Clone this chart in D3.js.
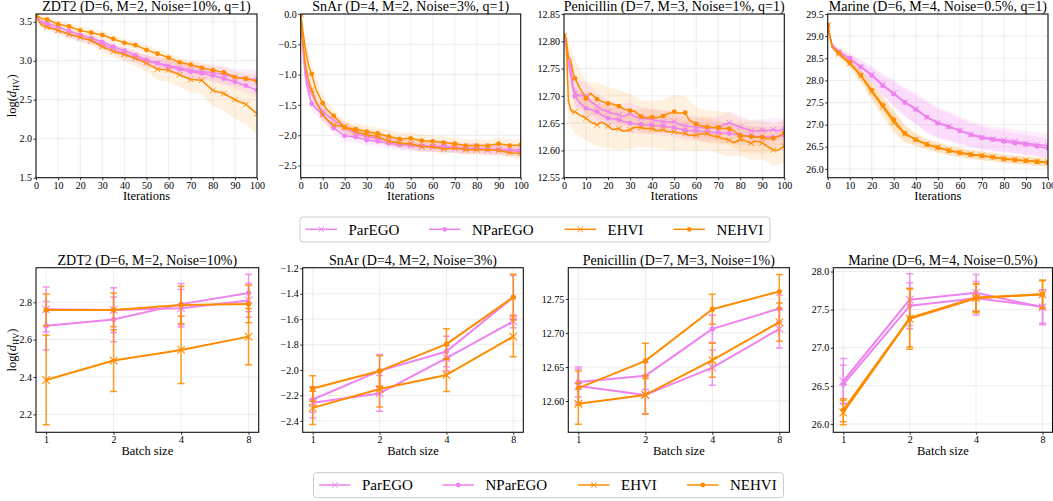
<!DOCTYPE html>
<html><head><meta charset="utf-8">
<script src="https://cdn.jsdelivr.net/npm/d3@7"></script>
<style>
body{margin:0;background:#fff}
svg{display:block}
</style>
</head><body>
<svg id="c" width="1053" height="501"></svg>
<script>
// ---------------- DATA ----------------
const methods = ["ParEGO","NParEGO","EHVI","NEHVI"];
const batchSizes = ["1","2","4","8"];
const iterTicks = [0,10,20,30,40,50,60,70,80,90,100];
const bandIters = [0,2,5,10,15,20,25,30,35,40,45,50,55,60,65,70,75,80,85,90,95,100];

// ZDT2 (q=1)
const zdt2Iters = [0,1,2,3,5,10,15,20,25,30,35,40,45,50,55,60,65,70,75,80,85,90,95,100];
const zdt2ParEGO  = [3.60,3.52,3.49,3.48,3.46,3.39,3.34,3.30,3.26,3.21,3.15,3.09,3.04,2.99,2.97,2.94,2.91,2.88,2.86,2.85,2.82,2.79,2.77,2.76];
const zdt2NParEGO = [3.60,3.54,3.51,3.50,3.48,3.44,3.38,3.33,3.29,3.24,3.18,3.13,3.07,3.01,2.97,2.92,2.89,2.86,2.84,2.81,2.77,2.73,2.68,2.62];
const zdt2EHVI    = [3.60,3.52,3.47,3.45,3.43,3.39,3.34,3.30,3.26,3.18,3.12,3.08,3.03,2.97,2.89,2.88,2.82,2.76,2.75,2.62,2.58,2.50,2.44,2.32];
const zdt2NEHVI   = [3.60,3.57,3.55,3.54,3.53,3.47,3.44,3.39,3.36,3.33,3.28,3.23,3.20,3.14,3.09,3.04,2.98,2.95,2.91,2.88,2.85,2.79,2.77,2.74];
const zdt2ParEGOBand  = [0,0.03,0.04,0.04,0.05,0.05,0.05,0.06,0.06,0.07,0.07,0.08,0.08,0.09,0.09,0.1,0.1,0.1,0.11,0.11,0.12,0.12];
const zdt2NParEGOBand = [0,0.02,0.03,0.03,0.04,0.04,0.04,0.05,0.05,0.05,0.06,0.06,0.06,0.07,0.07,0.07,0.08,0.08,0.08,0.08,0.09,0.09];
const zdt2EHVIBand    = [0,0.03,0.04,0.05,0.05,0.06,0.06,0.07,0.08,0.09,0.1,0.11,0.14,0.15,0.16,0.17,0.18,0.2,0.22,0.24,0.25,0.26];
const zdt2NEHVIBand   = [0,0.03,0.04,0.04,0.04,0.05,0.05,0.05,0.05,0.05,0.05,0.06,0.06,0.06,0.06,0.06,0.06,0.06,0.07,0.07,0.07,0.07];
const zdt2Ticks = [1.5,2.0,2.5,3.0,3.5];

// SnAr (q=1)
const snarIters = [0,1,2,3,4,5,7,10,12,15,20,25,30,35,40,45,50,55,60,65,70,75,80,85,90,95,100];
const snarParEGO  = [0,-0.50,-0.95,-1.12,-1.23,-1.31,-1.46,-1.61,-1.67,-1.75,-1.88,-1.97,-2.02,-2.05,-2.09,-2.13,-2.17,-2.19,-2.19,-2.20,-2.21,-2.23,-2.21,-2.24,-2.23,-2.25,-2.24];
const snarNParEGO = [0,-0.55,-1.00,-1.20,-1.36,-1.48,-1.56,-1.66,-1.75,-1.88,-2.01,-2.03,-2.08,-2.10,-2.13,-2.16,-2.16,-2.17,-2.18,-2.18,-2.20,-2.21,-2.22,-2.23,-2.24,-2.25,-2.27];
const snarEHVI    = [0,-0.45,-0.80,-1.00,-1.15,-1.25,-1.45,-1.66,-1.74,-1.83,-1.86,-1.94,-1.99,-2.02,-2.10,-2.13,-2.14,-2.19,-2.19,-2.23,-2.21,-2.24,-2.24,-2.24,-2.25,-2.29,-2.30];
const snarNEHVI   = [0,-0.28,-0.55,-0.75,-0.90,-0.99,-1.25,-1.47,-1.58,-1.68,-1.87,-1.90,-1.94,-1.97,-2.02,-2.06,-2.05,-2.09,-2.10,-2.12,-2.14,-2.17,-2.17,-2.17,-2.14,-2.17,-2.16];
const snarParEGOBand  = [0,0.15,0.12,0.1,0.1,0.09,0.09,0.08,0.08,0.08,0.08,0.08,0.08,0.08,0.08,0.08,0.08,0.08,0.08,0.08,0.08,0.08];
const snarNParEGOBand = [0,0.15,0.12,0.1,0.09,0.09,0.09,0.09,0.09,0.09,0.09,0.09,0.09,0.09,0.09,0.09,0.09,0.09,0.09,0.09,0.09,0.09];
const snarEHVIBand    = [0,0.15,0.12,0.1,0.1,0.09,0.09,0.08,0.08,0.08,0.08,0.08,0.08,0.08,0.08,0.08,0.08,0.08,0.08,0.08,0.09,0.09];
const snarNEHVIBand   = [0,0.15,0.14,0.12,0.1,0.1,0.1,0.1,0.1,0.1,0.1,0.1,0.1,0.1,0.1,0.1,0.1,0.1,0.1,0.1,0.1,0.1];
const snarTicks = [-2.5,-2.0,-1.5,-1.0,-0.5,0.0];

// Penicillin (q=1)
const peniIters = [0,1,2,3,4,5,7,10,12,15,17,20,22,25,27,30,32,35,37,40,42,45,47,50,52,55,57,60,62,65,67,70,72,75,77,80,82,85,87,90,92,95,97,100];
const peniParEGO  = [12.81,12.79,12.765,12.755,12.72,12.705,12.70,12.701,12.69,12.681,12.675,12.671,12.668,12.665,12.662,12.668,12.662,12.659,12.658,12.657,12.655,12.653,12.652,12.653,12.648,12.645,12.644,12.643,12.642,12.640,12.641,12.642,12.646,12.651,12.647,12.643,12.640,12.636,12.635,12.637,12.636,12.638,12.636,12.640];
const peniNParEGO = [12.81,12.79,12.76,12.74,12.715,12.699,12.688,12.677,12.675,12.671,12.665,12.659,12.658,12.656,12.653,12.650,12.649,12.648,12.647,12.647,12.645,12.645,12.643,12.642,12.640,12.637,12.636,12.636,12.635,12.634,12.633,12.633,12.632,12.631,12.630,12.628,12.627,12.627,12.626,12.625,12.625,12.624,12.626,12.628];
const peniEHVI    = [12.81,12.805,12.69,12.675,12.67,12.671,12.665,12.659,12.652,12.647,12.652,12.645,12.638,12.640,12.635,12.638,12.642,12.642,12.640,12.640,12.636,12.638,12.634,12.634,12.632,12.631,12.628,12.628,12.630,12.631,12.627,12.625,12.622,12.619,12.614,12.620,12.618,12.613,12.617,12.614,12.608,12.601,12.600,12.608];
const peniNEHVI   = [12.81,12.805,12.77,12.767,12.745,12.732,12.715,12.695,12.705,12.694,12.69,12.686,12.685,12.681,12.676,12.673,12.672,12.662,12.660,12.661,12.660,12.663,12.667,12.671,12.668,12.669,12.655,12.648,12.645,12.643,12.642,12.642,12.640,12.640,12.636,12.627,12.627,12.625,12.624,12.624,12.622,12.622,12.625,12.632];
const peniParEGOBand  = [0,0.02,0.025,0.025,0.025,0.02,0.02,0.02,0.02,0.02,0.02,0.02,0.02,0.02,0.02,0.02,0.02,0.02,0.02,0.02,0.02,0.02];
const peniNParEGOBand = [0,0.02,0.02,0.02,0.02,0.02,0.02,0.018,0.018,0.018,0.018,0.018,0.018,0.018,0.018,0.018,0.018,0.018,0.018,0.018,0.018,0.018];
const peniEHVIBand    = [0,0.04,0.04,0.04,0.04,0.04,0.04,0.035,0.035,0.035,0.035,0.035,0.03,0.03,0.03,0.03,0.03,0.03,0.03,0.03,0.03,0.03];
const peniNEHVIBand   = [0,0.03,0.035,0.03,0.03,0.03,0.03,0.03,0.03,0.03,0.03,0.03,0.03,0.03,0.03,0.03,0.03,0.03,0.03,0.03,0.025,0.025];
const peniTicks = [12.55,12.60,12.65,12.70,12.75,12.80,12.85];

// Marine (q=1)
const marineIters = [0,1,2,3,5,10,15,20,25,30,35,40,45,50,55,60,65,70,75,80,85,90,95,100];
const marineParEGO  = [29.25,29.0,28.8,28.75,28.65,28.49,28.31,28.13,27.90,27.71,27.51,27.36,27.17,27.05,26.96,26.87,26.78,26.72,26.68,26.65,26.62,26.58,26.55,26.52];
const marineNParEGO = [29.25,29.0,28.8,28.74,28.64,28.50,28.30,28.11,27.88,27.69,27.50,27.34,27.17,27.03,26.95,26.86,26.77,26.70,26.66,26.62,26.58,26.55,26.51,26.46];
const marineEHVI    = [29.25,29.0,28.76,28.70,28.60,28.38,28.10,27.74,27.40,27.05,26.79,26.66,26.55,26.49,26.42,26.37,26.33,26.30,26.27,26.23,26.21,26.19,26.17,26.15];
const marineNEHVI   = [29.25,29.0,28.76,28.70,28.62,28.40,28.12,27.78,27.44,27.11,26.80,26.66,26.55,26.48,26.41,26.36,26.32,26.29,26.26,26.22,26.20,26.18,26.16,26.14];
const marineParEGOBand  = [0,0.05,0.08,0.12,0.15,0.2,0.25,0.3,0.33,0.36,0.37,0.36,0.34,0.32,0.3,0.29,0.28,0.28,0.27,0.27,0.27,0.27];
const marineNParEGOBand = [0,0.05,0.07,0.1,0.13,0.17,0.22,0.26,0.3,0.32,0.33,0.32,0.3,0.28,0.26,0.25,0.24,0.23,0.23,0.22,0.22,0.22];
const marineEHVIBand    = [0,0.05,0.08,0.1,0.15,0.2,0.23,0.25,0.2,0.15,0.12,0.12,0.11,0.11,0.11,0.1,0.1,0.1,0.1,0.1,0.1,0.1];
const marineNEHVIBand   = [0,0.05,0.07,0.09,0.13,0.17,0.2,0.22,0.18,0.13,0.11,0.1,0.1,0.1,0.1,0.1,0.09,0.09,0.09,0.09,0.09,0.09];
const marineTicks = [26.0,26.5,27.0,27.5,28.0,28.5,29.0,29.5];

// Batch-size results (mean, error)
const zdt2BatchParEGO  = [2.762,2.758,2.768,2.81],  zdt2BatchParEGOErr  = [0.12,0.12,0.10,0.09];
const zdt2BatchNParEGO = [2.674,2.708,2.79,2.85],   zdt2BatchNParEGOErr = [0.13,0.12,0.11,0.10];
const zdt2BatchEHVI    = [2.384,2.488,2.545,2.616], zdt2BatchEHVIErr    = [0.24,0.165,0.18,0.15];
const zdt2BatchNEHVI   = [2.759,2.759,2.786,2.791], zdt2BatchNEHVIErr   = [0.085,0.09,0.10,0.10];
const zdt2BatchTicks = [2.2,2.4,2.6,2.8];

const snarBatchParEGO  = [-2.258,-2.184,-1.907,-1.617], snarBatchParEGOErr  = [0.12,0.14,0.10,0.05];
const snarBatchNParEGO = [-2.232,-2.007,-1.854,-1.427], snarBatchNParEGOErr = [0.10,0.13,0.12,0.17];
const snarBatchEHVI    = [-2.298,-2.15,-2.039,-1.736],  snarBatchEHVIErr    = [0.13,0.14,0.13,0.16];
const snarBatchNEHVI   = [-2.145,-2.007,-1.796,-1.427], snarBatchNEHVIErr   = [0.10,0.12,0.12,0.18];
const snarBatchTicks = [-2.4,-2.2,-2.0,-1.8,-1.6,-1.4,-1.2];

const peniBatchParEGO  = [12.622,12.609,12.649,12.706], peniBatchParEGOErr  = [0.025,0.028,0.026,0.028];
const peniBatchNParEGO = [12.628,12.637,12.706,12.736], peniBatchNParEGOErr = [0.022,0.02,0.02,0.02];
const peniBatchEHVI    = [12.596,12.609,12.66,12.716],  peniBatchEHVIErr    = [0.03,0.028,0.025,0.028];
const peniBatchNEHVI   = [12.619,12.659,12.735,12.761], peniBatchNEHVIErr   = [0.025,0.026,0.022,0.025];
const peniBatchTicks = [12.60,12.65,12.70,12.75];

const marineBatchParEGO  = [26.56,27.63,27.72,27.53], marineBatchParEGOErr  = [0.30,0.34,0.24,0.23];
const marineBatchNParEGO = [26.52,27.55,27.65,27.54], marineBatchNParEGOErr = [0.25,0.30,0.22,0.22];
const marineBatchEHVI    = [26.15,27.38,27.65,27.70], marineBatchEHVIErr    = [0.16,0.40,0.19,0.19];
const marineBatchNEHVI   = [26.18,27.39,27.66,27.70], marineBatchNEHVIErr   = [0.15,0.38,0.18,0.18];
const marineBatchTicks = [26.0,26.5,27.0,27.5,28.0];

// ---------------- CHART ----------------
const VIOLET = "#ee82ee", ORANGE = "#ff8c00";
const color  = {ParEGO:VIOLET, NParEGO:VIOLET, EHVI:ORANGE, NEHVI:ORANGE};
const marker = {ParEGO:"x", NParEGO:"dot", EHVI:"x", NEHVI:"dot"};
const FONT = "'Liberation Serif', 'Times New Roman', Times, 'DejaVu Serif', serif";

const topPanels = [
  {title:"ZDT2 (D=6, M=2, Noise=10%, q=1)", iters:zdt2Iters, ticks:zdt2Ticks, fmt:".1f",
   s:{ParEGO:zdt2ParEGO,NParEGO:zdt2NParEGO,EHVI:zdt2EHVI,NEHVI:zdt2NEHVI},
   b:{ParEGO:zdt2ParEGOBand,NParEGO:zdt2NParEGOBand,EHVI:zdt2EHVIBand,NEHVI:zdt2NEHVIBand}},
  {title:"SnAr (D=4, M=2, Noise=3%, q=1)", iters:snarIters, ticks:snarTicks, fmt:".1f",
   s:{ParEGO:snarParEGO,NParEGO:snarNParEGO,EHVI:snarEHVI,NEHVI:snarNEHVI},
   b:{ParEGO:snarParEGOBand,NParEGO:snarNParEGOBand,EHVI:snarEHVIBand,NEHVI:snarNEHVIBand}},
  {title:"Penicillin (D=7, M=3, Noise=1%, q=1)", iters:peniIters, ticks:peniTicks, fmt:".2f",
   s:{ParEGO:peniParEGO,NParEGO:peniNParEGO,EHVI:peniEHVI,NEHVI:peniNEHVI},
   b:{ParEGO:peniParEGOBand,NParEGO:peniNParEGOBand,EHVI:peniEHVIBand,NEHVI:peniNEHVIBand}},
  {title:"Marine (D=6, M=4, Noise=0.5%, q=1)", iters:marineIters, ticks:marineTicks, fmt:".1f",
   s:{ParEGO:marineParEGO,NParEGO:marineNParEGO,EHVI:marineEHVI,NEHVI:marineNEHVI},
   b:{ParEGO:marineParEGOBand,NParEGO:marineNParEGOBand,EHVI:marineEHVIBand,NEHVI:marineNEHVIBand}}
];
const botPanels = [
  {title:"ZDT2 (D=6, M=2, Noise=10%)", ticks:zdt2BatchTicks, fmt:".1f",
   s:{ParEGO:zdt2BatchParEGO,NParEGO:zdt2BatchNParEGO,EHVI:zdt2BatchEHVI,NEHVI:zdt2BatchNEHVI},
   e:{ParEGO:zdt2BatchParEGOErr,NParEGO:zdt2BatchNParEGOErr,EHVI:zdt2BatchEHVIErr,NEHVI:zdt2BatchNEHVIErr}},
  {title:"SnAr (D=4, M=2, Noise=3%)", ticks:snarBatchTicks, fmt:".1f",
   s:{ParEGO:snarBatchParEGO,NParEGO:snarBatchNParEGO,EHVI:snarBatchEHVI,NEHVI:snarBatchNEHVI},
   e:{ParEGO:snarBatchParEGOErr,NParEGO:snarBatchNParEGOErr,EHVI:snarBatchEHVIErr,NEHVI:snarBatchNEHVIErr}},
  {title:"Penicillin (D=7, M=3, Noise=1%)", ticks:peniBatchTicks, fmt:".2f",
   s:{ParEGO:peniBatchParEGO,NParEGO:peniBatchNParEGO,EHVI:peniBatchEHVI,NEHVI:peniBatchNEHVI},
   e:{ParEGO:peniBatchParEGOErr,NParEGO:peniBatchNParEGOErr,EHVI:peniBatchEHVIErr,NEHVI:peniBatchNEHVIErr}},
  {title:"Marine (D=6, M=4, Noise=0.5%)", ticks:marineBatchTicks, fmt:".1f",
   s:{ParEGO:marineBatchParEGO,NParEGO:marineBatchNParEGO,EHVI:marineBatchEHVI,NEHVI:marineBatchNEHVI},
   e:{ParEGO:marineBatchParEGOErr,NParEGO:marineBatchNParEGOErr,EHVI:marineBatchEHVIErr,NEHVI:marineBatchNEHVIErr}}
];

// layout
const topLayout = [
  {x0:36,   x1:257,    dom:[1.5,3.6]},
  {x0:300.7,x1:520.7,  dom:[-2.7,0]},
  {x0:564,  x1:784.3,  dom:[12.55,12.85]},
  {x0:827.7,x1:1048,   dom:[25.8,29.5]}
];
const topY = [14,177.7];
const botLayout = [
  {x0:36,   x1:258.7,  dom:[2.104,2.985]},
  {x0:302.7,x1:523.3,  dom:[-2.49,-1.195]},
  {x0:568.3,x1:789.4,  dom:[12.554,12.796]},
  {x0:833.3,x1:1052.5, dom:[25.89,28.05]}
];
const botY = [267.7,432.3];

const svg = d3.select("#c");
const defs = svg.append("defs");
let clipN = 0;
const TICKFS = 10, TITLEFS = 14, LABFS = 12.5;

function xMarkPath(s){ return `M${-s},${-s}L${s},${s}M${-s},${s}L${s},${-s}`; }

function drawMarker(g, name, cx, cy, big){
  const c = color[name];
  if (marker[name]==="x"){
    g.append("path").attr("d", xMarkPath(big?3.8:2.8)).attr("transform",`translate(${cx},${cy})`)
      .attr("stroke",c).attr("stroke-width",big?1.1:1).attr("fill","none");
  } else {
    g.append("circle").attr("cx",cx).attr("cy",cy).attr("r",big?2.6:2.4).attr("fill",c);
  }
}

function setupAxes(L, yr, xScale, xTickVals, xFmt, yTicks, yFmt, title, xlabel, showYLabel){
  const yScale = d3.scaleLinear().domain(L.dom).range([yr[1], yr[0]]);
  const g = svg.append("g");
  const grid = g.append("g").attr("stroke","#e8e8e8").attr("stroke-width",0.8);
  xTickVals.forEach(v=>grid.append("line").attr("x1",xScale(v)).attr("x2",xScale(v)).attr("y1",yr[0]).attr("y2",yr[1]));
  yTicks.forEach(v=>grid.append("line").attr("x1",L.x0).attr("x2",L.x1).attr("y1",yScale(v)).attr("y2",yScale(v)));
  const ax = g.append("g").attr("transform",`translate(0,${yr[1]})`)
    .call(d3.axisBottom(xScale).tickValues(xTickVals).tickFormat(xFmt).tickSize(2.5).tickPadding(1.5));
  const ay = g.append("g").attr("transform",`translate(${L.x0},0)`)
    .call(d3.axisLeft(yScale).tickValues(yTicks).tickFormat(d3.format(yFmt)).tickSize(2.5).tickPadding(1.5));
  [ax,ay].forEach(a=>{
    a.select(".domain").remove();
    a.attr("font-family",null).attr("font-size",null);
    a.selectAll("text").attr("font-size",TICKFS).attr("fill","#000");
    a.selectAll("line").attr("stroke","#000").attr("stroke-width",0.8);
  });
  g.append("text").attr("x",(L.x0+L.x1)/2).attr("y",yr[0]-3).attr("text-anchor","middle")
    .attr("font-size",TITLEFS).text(title);
  g.append("text").attr("x",(L.x0+L.x1)/2).attr("y",yr[1]+22.5).attr("text-anchor","middle")
    .attr("font-size",LABFS).text(xlabel);
  if (showYLabel){
    const t = g.append("text").attr("transform",`translate(16,${(yr[0]+yr[1])/2}) rotate(-90)`)
      .attr("text-anchor","middle").attr("font-size",LABFS);
    t.append("tspan").text("log(");
    t.append("tspan").attr("font-style","italic").text("d");
    t.append("tspan").attr("font-size",8.5).attr("dy",2.5).text("HV");
    t.append("tspan").attr("dy",-2.5).text(")");
  }
  const id = "clip"+(clipN++);
  defs.append("clipPath").attr("id",id).append("rect")
    .attr("x",L.x0).attr("y",yr[0]).attr("width",L.x1-L.x0).attr("height",yr[1]-yr[0]);
  const plot = g.append("g").attr("clip-path",`url(#${id})`);
  g.append("rect").attr("x",L.x0).attr("y",yr[0]).attr("width",L.x1-L.x0).attr("height",yr[1]-yr[0])
    .attr("fill","none").attr("stroke","#111").attr("stroke-width",1.1);
  return {plot, yScale};
}

// ---- top row ----
topPanels.forEach((P,pi)=>{
  const L = topLayout[pi];
  const x = d3.scaleLinear().domain([0,100]).range([L.x0,L.x1]);
  const {plot, yScale:y} = setupAxes(L, topY, x, iterTicks, d3.format("d"), P.ticks, P.fmt, P.title, "Iterations", pi===0);
  methods.forEach(m=>{
    const mean = P.s[m], band = P.b[m];
    const pts = bandIters.map((it,k)=>{ const idx = P.iters.indexOf(it); return {it, lo:mean[idx]-band[k], hi:mean[idx]+band[k]}; });
    plot.append("path").datum(pts)
      .attr("d", d3.area().x(d=>x(d.it)).y0(d=>y(d.lo)).y1(d=>y(d.hi)))
      .attr("fill", color[m]).attr("fill-opacity", color[m]===ORANGE?0.12:0.14).attr("stroke","none");
  });
  methods.forEach(m=>{
    const mean = P.s[m];
    plot.append("path").datum(P.iters.map((it,k)=>[it,mean[k]]))
      .attr("d", d3.line().x(d=>x(d[0])).y(d=>y(d[1])))
      .attr("fill","none").attr("stroke",color[m]).attr("stroke-width",1.5).attr("stroke-linejoin","round");
    P.iters.forEach((it,k)=>{ if (it%5===0) drawMarker(plot, m, x(it), y(mean[k]), false); });
  });
});

// ---- bottom row ----
botPanels.forEach((P,pi)=>{
  const L = botLayout[pi];
  const xi = d3.scaleLinear().domain([-0.15,3.15]).range([L.x0,L.x1]);
  const idx = batchSizes.map((b,i)=>i);
  const {plot, yScale:y} = setupAxes(L, botY, xi, idx, i=>batchSizes[i], P.ticks, P.fmt, P.title, "Batch size", pi===0);
  methods.forEach(m=>{
    const mean = P.s[m], err = P.e[m];
    const eg = plot.append("g").attr("stroke",color[m]).attr("stroke-width",1.5).attr("stroke-opacity",0.85);
    idx.forEach(i=>{
      const cx = xi(i), lo = y(mean[i]-err[i]), hi = y(mean[i]+err[i]);
      eg.append("line").attr("x1",cx).attr("x2",cx).attr("y1",lo).attr("y2",hi);
      eg.append("line").attr("x1",cx-3.5).attr("x2",cx+3.5).attr("y1",lo).attr("y2",lo);
      eg.append("line").attr("x1",cx-3.5).attr("x2",cx+3.5).attr("y1",hi).attr("y2",hi);
    });
    plot.append("path").datum(idx)
      .attr("d", d3.line().x(i=>xi(i)).y(i=>y(mean[i])))
      .attr("fill","none").attr("stroke",color[m]).attr("stroke-width",2).attr("stroke-linejoin","round");
    idx.forEach(i=>drawMarker(plot, m, xi(i), y(mean[i]), true));
  });
});

// ---- legends ----
function legend(bx, by){
  const g = svg.append("g");
  g.append("rect").attr("x",bx).attr("y",by).attr("width",470).attr("height",25).attr("rx",3)
    .attr("fill","#fff").attr("stroke","#cccccc").attr("stroke-width",1);
  const offs = [5.5,129,264.5,373.5];
  methods.forEach((m,i)=>{
    const lx = bx+offs[i], ly = by+12.3;
    g.append("line").attr("x1",lx).attr("x2",lx+31.5).attr("y1",ly).attr("y2",ly)
      .attr("stroke",color[m]).attr("stroke-width",1.5);
    drawMarker(g, m, lx+15.75, ly, false);
    g.append("text").attr("x",lx+43).attr("y",by+17.5).attr("font-size",15).text(m);
  });
}
legend(300, 217);
legend(313.5, 472.7);

// font on every text
svg.selectAll("text").style("font-family", FONT).style("fill", "#000");
</script>
</body></html>
